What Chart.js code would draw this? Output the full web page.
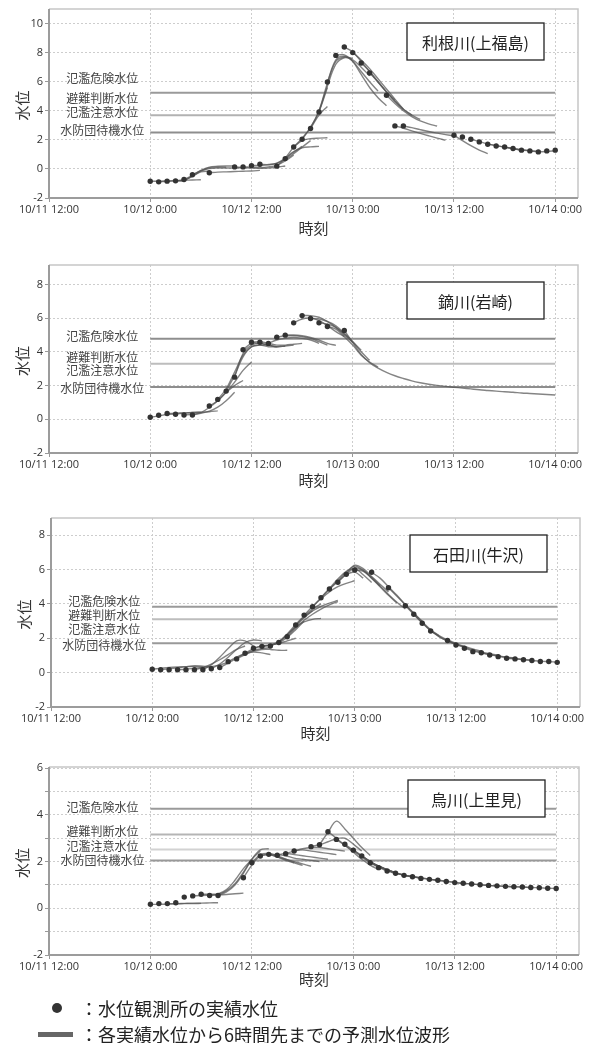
<!DOCTYPE html>
<html>
<head>
<meta charset="utf-8">
<script src="https://cdn.jsdelivr.net/npm/chart.js@4.4.1/dist/chart.umd.min.js"></script>
<style>
  html, body { margin: 0; padding: 0; background: #fff; }
  #wrap { position: relative; width: 602px; height: 1043px; overflow: hidden; font-family: 'Noto Sans CJK JP', 'Open Sans', sans-serif; }
  canvas { position: absolute; left: 0; }
  .leg { position: absolute; left: 80px; font-size: 18px; line-height: 18px; color: #222; white-space: nowrap; }
</style>
</head>
<body>
<div id="wrap">
  <canvas id="c1" width="602" height="245" style="top:0px"></canvas>
  <canvas id="c2" width="602" height="250" style="top:250px"></canvas>
  <canvas id="c3" width="602" height="249" style="top:505px"></canvas>
  <canvas id="c4" width="602" height="247" style="top:755px"></canvas>
  <div style="position:absolute;left:52px;top:1003px;width:10px;height:10px;border-radius:50%;background:#333"></div>
  <div class="leg" style="top:999px">：水位観測所の実績水位</div>
  <div style="position:absolute;left:38px;top:1032px;width:35px;height:5px;background:#666"></div>
  <div class="leg" style="top:1025px">：各実績水位から6時間先までの予測水位波形</div>
</div>
<script>
  // x = hours after 10/11 12:00
  const xTickLabels = ['10/11 12:00', '10/12 0:00', '10/12 12:00', '10/13 0:00', '10/13 12:00', '10/14 0:00'];
  const levelNames = ['氾濫危険水位', '避難判断水位', '氾濫注意水位', '水防団待機水位'];

  // ---- 利根川(上福島) ----
  const toneName = '利根川(上福島)';
  const toneObsStart = 12;
  const toneObs = [-0.85, -0.89, -0.84, -0.82, -0.73, -0.40, null, -0.26, null, null, 0.14, 0.14, 0.23, 0.32, null, 0.19,
    0.71, 1.51, 2.04, 2.78, 3.92, 5.98, 7.81, 8.39, 8.00, 7.29, 6.60, null, 5.07, 2.96, 2.96, null, null, null, null, null,
    2.32, 2.20, 2.04, 1.86, 1.70, 1.58, 1.51, 1.40, 1.29, 1.24, 1.17, 1.24, 1.29];
  const toneLevels = [5.24, 3.70, 2.51];
  const toneLabelAt = [6.2, 4.83, 3.86, 2.67];
  const toneFcStart = [12, 13, 15, 16, 17, 19, 22, 23, 24, 25, 27, 28, 29, 30, 31, 32, 33, 34, 35, 36, 37, 38, 40, 41, 42, 48, 50, 52, 54];
  const toneFc = [
    [-0.85, -0.85, -0.82, -0.80, -0.78, -0.76, -0.74],
    [-0.89, -0.86, -0.82, -0.78, -0.50, -0.20, -0.15],
    [-0.82, -0.78, -0.50, -0.15, 0.08, 0.12, 0.12],
    [-0.73, -0.45, -0.10, 0.12, 0.18, 0.20, 0.20],
    [-0.40, -0.12, 0.02, 0.06, 0.06, 0.06, 0.08],
    [-0.26, -0.22, -0.20, -0.18, -0.16, -0.14, -0.10],
    [0.14, 0.10, 0.06, 0.04, 0.06, 0.12, 0.20],
    [0.14, 0.12, 0.10, 0.14, 0.25, 0.55, 0.95],
    [0.23, 0.24, 0.28, 0.40, 0.72, 1.15, 1.55],
    [0.32, 0.30, 0.38, 0.65, 1.05, 1.50, 1.95],
    [0.19, 0.75, 1.50, 2.10, 2.85, 3.95, 5.60],
    [0.71, 1.20, 1.45, 1.52, 1.55],
    [1.51, 1.95, 2.08, 2.12, 2.14],
    [2.04, 2.85, 4.00, 5.90, 7.40, 7.70, 7.60],
    [2.78, 3.70, 4.30],
    [3.92, 5.70, 7.20, 7.65, 7.50, 7.00, 6.40],
    [5.98, 7.50, 7.75, 7.40, 6.70, 6.00, 5.35],
    [7.81, 7.85, 7.40, 6.50, 5.60, 4.90, 4.35],
    [8.39, 8.05, 7.40, 6.70, 5.95, 5.30, 4.75],
    [8.00, 7.50, 6.90, 6.20, 5.50, 4.80, 4.10],
    [7.29, 6.70, 6.00, 5.30, 4.65, 4.10, 3.70],
    [6.60, 6.00, 5.30, 4.65, 4.10, 3.70, 3.40],
    [5.07, 4.50, 4.00, 3.60, 3.30, 3.10, 2.95],
    [2.96, 2.80, 2.62, 2.45, 2.28, 2.12, 1.98],
    [2.96, 2.84, 2.70, 2.57, 2.46, 2.36, 2.27],
    [2.32, 1.95, 1.60, 1.30, 1.05],
    [2.04, 1.88, 1.72, 1.60, 1.50, 1.40, 1.30],
    [1.70, 1.60, 1.50, 1.40, 1.32, 1.25, 1.20],
    [1.51, 1.40, 1.30, 1.24, 1.18, 1.20, 1.25]
  ];

  // ---- 鏑川(岩崎) ----
  const kabName = '鏑川(岩崎)';
  const kabObsStart = 12;
  const kabObs = [0.12, 0.24, 0.34, 0.30, 0.25, 0.25, null, 0.79, 1.18, 1.67, 2.50, 4.12, 4.57, 4.57, 4.50, 4.87, 4.99,
    5.72, 6.15, 5.98, 5.72, 5.50, null, 5.27];
  const kabLevels = [4.77, 3.30, 1.91];
  const kabLabelAt = [4.9, 3.69, 2.9, 1.82];
  // long recession wave from 10/12 23:00
  const kabRecStart = 35;
  const kabRec = [5.27, 4.55, 3.85, 3.35, 3.03, 2.78, 2.58, 2.42, 2.28, 2.17, 2.08, 2.01, 1.95, 1.90, 1.85, 1.80, 1.75,
    1.71, 1.67, 1.63, 1.60, 1.56, 1.53, 1.50, 1.47, 1.44];
  const kabFcStart = [12, 14, 16, 17, 19, 20, 21, 22, 23, 24, 26, 27, 28, 29, 30, 31, 32, 33];
  const kabFc = [
    [0.12, 0.20, 0.28, 0.33, 0.36, 0.40, 0.42],
    [0.34, 0.36, 0.38, 0.40, 0.42, 0.45, 0.50],
    [0.25, 0.30, 0.36, 0.48, 0.72, 1.10, 1.60],
    [0.25, 0.40, 0.70, 1.10, 1.60, 2.00, 2.30],
    [0.79, 1.10, 1.60, 2.20, 2.90, 3.40],
    [1.18, 1.80, 2.80, 3.80, 4.30, 4.40, 4.40],
    [1.67, 2.60, 3.70, 4.30, 4.40, 4.30, 4.30],
    [2.50, 3.90, 4.40, 4.50, 4.40, 4.30, 4.35],
    [4.12, 4.50, 4.50, 4.40, 4.30, 4.35, 4.40],
    [4.57, 4.60, 4.50, 4.40, 4.40, 4.45, 4.50],
    [4.50, 4.70, 4.80, 4.85, 4.80, 4.70, 4.50],
    [4.87, 4.95, 4.95, 4.90, 4.80, 4.60, 4.40],
    [4.99, 5.00, 4.95, 4.85, 4.70, 4.50, 4.38],
    [5.72, 5.95, 6.00, 5.85, 5.55, 5.20, 4.90],
    [6.15, 6.15, 6.05, 5.80, 5.45, 5.00, 4.55],
    [5.98, 5.95, 5.80, 5.55, 5.10, 4.60, 4.10],
    [5.72, 5.65, 5.45, 5.05, 4.60, 4.00, 3.50],
    [5.50, 5.35, 4.90, 4.40, 3.80, 3.40, 3.10]
  ];

  // ---- 石田川(牛沢) ----
  const ishName = '石田川(牛沢)';
  const ishObsStart = 12;
  const ishObs = [0.20, 0.17, 0.17, 0.17, 0.17, 0.17, 0.17, 0.23, 0.30, 0.64, 0.80, 1.13, 1.42, 1.53, 1.55, 1.75, 2.09,
    2.77, 3.35, 3.84, 4.36, 4.87, 5.26, 5.72, 5.97, null, 5.84, null, 4.94, null, 3.90, 3.40, 2.87, 2.42, null, 1.87,
    1.61, 1.42, 1.22, 1.16, 1.03, 0.93, 0.84, 0.80, 0.75, 0.71, 0.65, 0.65, 0.60];
  const ishLevels = [3.84, 3.10, 1.71];
  const ishLabelAt = [4.13, 3.35, 2.54, 1.57];
  const ishFcStart = [12, 13, 15, 17, 18, 19, 20, 21, 22, 23, 24, 25, 26, 27, 28, 29, 30, 31, 32, 33, 34, 35, 36, 38, 40, 42, 43, 45, 47, 49, 51, 54];
  const ishFc = [
    [0.20, 0.25, 0.30, 0.33, 0.35, 0.35, 0.33],
    [0.17, 0.22, 0.28, 0.35, 0.40, 0.38, 0.35],
    [0.17, 0.20, 0.25, 0.30, 0.35, 0.45, 0.60],
    [0.17, 0.30, 0.50, 0.75, 1.05, 1.35, 1.55],
    [0.17, 0.45, 0.90, 1.40, 1.85, 1.85, 1.55],
    [0.23, 0.50, 0.90, 1.35, 1.75, 1.90, 1.85],
    [0.30, 0.55, 0.85, 1.10, 1.30, 1.40, 1.45],
    [0.64, 0.90, 1.10, 1.20, 1.15, 1.05],
    [0.80, 1.05, 1.25, 1.35, 1.35, 1.30, 1.30],
    [1.13, 1.40, 1.55, 1.60, 1.70, 1.85, 2.00],
    [1.42, 1.55, 1.60, 1.75, 2.05, 2.50, 3.00],
    [1.53, 1.60, 1.80, 2.20, 2.70, 3.20, 3.60],
    [1.55, 1.80, 2.25, 2.80, 3.30, 3.70, 4.00],
    [1.75, 2.20, 2.65, 2.95, 3.10, 3.16],
    [2.09, 2.60, 3.05, 3.40, 3.70, 3.95, 4.13],
    [2.77, 3.25, 3.60, 3.85, 4.05, 4.20],
    [3.35, 3.85, 4.30, 4.70, 5.00, 5.20, 5.35],
    [3.84, 4.35, 4.85, 5.30, 5.70, 5.85, 5.50],
    [4.36, 4.90, 5.45, 5.90, 6.05, 5.70, 5.25],
    [4.87, 5.35, 5.85, 6.20, 5.95, 5.50, 5.05],
    [5.26, 5.75, 6.25, 6.05, 5.60, 5.15, 4.70],
    [5.72, 6.10, 5.95, 5.50, 5.00, 4.50, 4.05],
    [5.97, 5.90, 5.55, 5.05, 4.55, 4.10, 3.70],
    [5.84, 5.50, 5.00, 4.50, 3.95, 3.45, 3.00],
    [4.94, 4.45, 3.95, 3.45, 2.95, 2.50, 2.15],
    [3.90, 3.40, 2.90, 2.45, 2.10, 1.85, 1.65],
    [3.40, 2.90, 2.45, 2.10, 1.85, 1.65, 1.50],
    [2.42, 2.15, 1.90, 1.70, 1.52, 1.38, 1.25],
    [1.87, 1.65, 1.48, 1.32, 1.20, 1.10, 1.02],
    [1.42, 1.27, 1.15, 1.05, 0.97, 0.90, 0.85],
    [1.16, 1.05, 0.96, 0.88, 0.82, 0.77, 0.73],
    [0.84, 0.80, 0.75, 0.71, 0.67, 0.64, 0.61]
  ];

  // ---- 烏川(上里見) ----
  const karName = '烏川(上里見)';
  const karObsStart = 12;
  const karObs = [0.17, 0.20, 0.20, 0.24, 0.48, 0.53, 0.60, 0.55, 0.55, null, null, 1.31, 1.95, 2.24, 2.31, 2.27, 2.34,
    2.45, null, 2.64, 2.72, 3.28, 2.95, 2.74, 2.49, 2.24, 1.95, 1.74, 1.60, 1.50, 1.41, 1.35, 1.28, 1.24, 1.20, 1.15,
    1.10, 1.07, 1.04, 1.01, 0.98, 0.96, 0.94, 0.92, 0.91, 0.89, 0.88, 0.86, 0.85];
  const karLevels = [4.26, 3.16, 2.52, 2.05];
  const karLabelAt = [4.3, 3.3, 2.64, 2.06];
  const karFcStart = [12, 14, 17, 18, 19, 20, 23, 24, 25, 26, 27, 28, 29, 31, 32, 33, 34, 35, 36, 37, 38, 40, 42, 45, 48, 51, 54];
  const karFc = [
    [0.17, 0.17, 0.18, 0.19, 0.20, 0.20, 0.21],
    [0.20, 0.20, 0.21, 0.22, 0.22, 0.23, 0.24],
    [0.53, 0.55, 0.56, 0.57, 0.59, 0.62, 0.65],
    [0.60, 0.60, 0.62, 0.80, 1.20, 1.70, 2.10],
    [0.55, 0.60, 0.75, 1.05, 1.55, 2.10, 2.45],
    [0.55, 0.70, 1.00, 1.50, 2.10, 2.50, 2.55],
    [1.31, 1.85, 2.25, 2.30, 2.20, 2.05, 1.95],
    [1.95, 2.30, 2.35, 2.25, 2.10, 1.95, 1.84],
    [2.24, 2.30, 2.20, 2.10, 2.00, 1.90, 1.80],
    [2.31, 2.30, 2.25, 2.15, 2.10, 2.05, 2.00],
    [2.27, 2.35, 2.30, 2.25, 2.20, 2.15, 2.10],
    [2.34, 2.45, 2.50, 2.45, 2.40, 2.35, 2.30],
    [2.45, 2.55, 2.60, 2.60, 2.55, 2.50, 2.45],
    [2.64, 2.72, 2.85, 2.98, 3.00, 2.75, 2.45],
    [2.72, 3.25, 3.73, 3.40, 3.00, 2.60, 2.26],
    [3.28, 3.00, 2.70, 2.40, 2.10, 1.85, 1.65],
    [2.95, 2.70, 2.45, 2.20, 1.95, 1.75, 1.60],
    [2.74, 2.50, 2.25, 2.00, 1.80, 1.65, 1.52],
    [2.49, 2.25, 2.00, 1.80, 1.65, 1.52, 1.42],
    [2.24, 2.00, 1.80, 1.65, 1.52, 1.42, 1.35],
    [1.95, 1.80, 1.65, 1.52, 1.42, 1.35, 1.30],
    [1.60, 1.50, 1.42, 1.35, 1.30, 1.25, 1.20],
    [1.41, 1.35, 1.29, 1.24, 1.20, 1.16, 1.12],
    [1.24, 1.20, 1.15, 1.10, 1.07, 1.04, 1.01],
    [1.10, 1.07, 1.04, 1.01, 0.98, 0.96, 0.94],
    [1.01, 0.98, 0.96, 0.94, 0.92, 0.91, 0.89],
    [0.94, 0.92, 0.91, 0.89, 0.88, 0.86, 0.85]
  ];

  // line shades of the warning levels (style only)
  const toneShades = ['#9a9a9a', '#b2b2b2', '#8e8e8e'];
  const kabShades = ['#8e8e8e', '#bdbdbd', '#8e8e8e'];
  const ishShades = ['#9a9a9a', '#bdbdbd', '#999999'];
  const karShades = ['#9a9a9a', '#b5b5b5', '#d2d2d2', '#999999'];

  Chart.defaults.font.family = "'Open Sans', 'Noto Sans CJK JP', sans-serif";
  const JP = '"Noto Sans CJK JP", sans-serif';

  const decor = {
    id: 'decor',
    afterDatasetsDraw(chart, args, o) {
      const { ctx, chartArea: a, scales: { x, y } } = chart;
      ctx.save();
      // plot frame
      ctx.lineWidth = 1.5;
      ctx.strokeStyle = '#c6c6c6';
      ctx.beginPath();
      ctx.moveTo(a.left, a.top); ctx.lineTo(a.right, a.top); ctx.lineTo(a.right, a.bottom);
      ctx.stroke();
      ctx.lineWidth = 2;
      ctx.strokeStyle = '#9c9c9c';
      ctx.beginPath();
      ctx.moveTo(a.left, a.top); ctx.lineTo(a.left, a.bottom); ctx.lineTo(a.right, a.bottom);
      ctx.stroke();

      // level names
      ctx.textAlign = 'center';
      ctx.textBaseline = 'middle';
      ctx.font = '12px ' + JP;
      ctx.fillStyle = '#444';
      const lx = x.getPixelForValue(12) - 48;
      o.labelAt.forEach((v, i) => ctx.fillText(levelNames[i], lx, y.getPixelForValue(v)));

      // station box
      const bw = 137, bh = 37;
      const bx = a.right - o.boxRight - bw, by = a.top + o.boxTop;
      ctx.fillStyle = '#fff';
      ctx.fillRect(bx, by, bw, bh);
      ctx.lineWidth = 1.3;
      ctx.strokeStyle = '#222';
      ctx.strokeRect(bx, by, bw, bh);
      ctx.font = '16px ' + JP;
      ctx.fillStyle = '#222';
      ctx.fillText(o.name, bx + bw / 2, by + bh / 2 + 1);

      // axis titles
      ctx.font = '15px ' + JP;
      ctx.fillStyle = '#333';
      ctx.fillText('時刻', (a.left + a.right) / 2, a.bottom + o.titleGap);
      ctx.translate(a.left - 27, (a.top + a.bottom) / 2 + 2);
      ctx.rotate(-Math.PI / 2);
      ctx.fillText('水位', 0, 0);
      ctx.restore();
    }
  };

  function drawRiver(id, r) {
    const datasets = [];
    r.levels.forEach((v, i) => datasets.push({
      data: [{ x: 12, y: v }, { x: 60, y: v }],
      showLine: true, borderColor: r.shades[i], borderWidth: 2, pointRadius: 0, order: 3
    }));
    const addLine = (start, vals) => datasets.push({
      data: vals.map((v, k) => ({ x: start + k, y: v })),
      showLine: true, borderColor: 'rgba(85,85,85,0.72)', borderWidth: 1.4,
      pointRadius: 0, tension: 0.35, order: 2
    });
    r.fcStart.forEach((s, i) => addLine(s, r.fc[i]));
    if (r.rec) addLine(r.recStart, r.rec);
    datasets.push({
      data: r.obs.map((v, k) => ({ x: r.obsStart + k, y: v })).filter(p => p.y !== null),
      showLine: false, pointRadius: 2.7, pointBackgroundColor: '#333', pointBorderWidth: 0, order: 0
    });

    new Chart(document.getElementById(id), {
      type: 'scatter',
      data: { datasets },
      plugins: [decor],
      options: {
        responsive: false,
        animation: false,
        events: [],
        layout: { padding: { left: 0, right: r.padRight, top: r.padTop, bottom: 0 } },
        plugins: {
          legend: { display: false },
          tooltip: { enabled: false },
          decor: { name: r.name, labelAt: r.labelAt, boxTop: r.boxTop, boxRight: r.boxRight, titleGap: r.titleGap }
        },
        scales: {
          x: {
            type: 'linear', min: 0, max: 62.7,
            ticks: {
              stepSize: 12, includeBounds: false, maxRotation: 0, autoSkip: false, padding: 1,
              font: { size: 11 }, color: '#333',
              callback: v => xTickLabels[Math.round(v / 12)]
            },
            grid: { color: '#cdcdcd', tickLength: 4, tickColor: '#999' },
            border: { display: false, dash: [2, 2] },
            afterFit: s => { s.height = 47; s.paddingLeft = 0; s.paddingRight = 0; }
          },
          y: {
            type: 'linear', min: -2, max: r.yMax,
            ticks: {
              stepSize: r.yStep, includeBounds: false, padding: 2,
              font: { size: 11 }, color: '#333',
              callback: v => (v % 2 === 0 ? v : '')
            },
            grid: { color: '#cdcdcd', tickLength: 4, tickColor: '#999' },
            border: { display: false, dash: [2, 2] },
            afterFit: s => { s.width = r.axisLeft; s.paddingTop = 0; s.paddingBottom = 0; }
          }
        }
      }
    });
  }

  drawRiver('c1', {
    name: toneName, obsStart: toneObsStart, obs: toneObs, levels: toneLevels, shades: toneShades,
    labelAt: toneLabelAt, fcStart: toneFcStart, fc: toneFc,
    yMax: 11, yStep: 2, axisLeft: 49, padRight: 24, padTop: 9, boxTop: 14, boxRight: 34, titleGap: 30
  });
  drawRiver('c2', {
    name: kabName, obsStart: kabObsStart, obs: kabObs, levels: kabLevels, shades: kabShades,
    labelAt: kabLabelAt, fcStart: kabFcStart, fc: kabFc, recStart: kabRecStart, rec: kabRec,
    yMax: 9.15, yStep: 2, axisLeft: 49, padRight: 24, padTop: 15, boxTop: 17, boxRight: 34, titleGap: 27
  });
  drawRiver('c3', {
    name: ishName, obsStart: ishObsStart, obs: ishObs, levels: ishLevels, shades: ishShades,
    labelAt: ishLabelAt, fcStart: ishFcStart, fc: ishFc,
    yMax: 9, yStep: 2, axisLeft: 51, padRight: 22, padTop: 13, boxTop: 17, boxRight: 33, titleGap: 26
  });
  drawRiver('c4', {
    name: karName, obsStart: karObsStart, obs: karObs, levels: karLevels, shades: karShades,
    labelAt: karLabelAt, fcStart: karFcStart, fc: karFc,
    yMax: 6.05, yStep: 1, axisLeft: 49, padRight: 23, padTop: 12, boxTop: 13, boxRight: 34, titleGap: 24
  });
</script>
</body>
</html>
